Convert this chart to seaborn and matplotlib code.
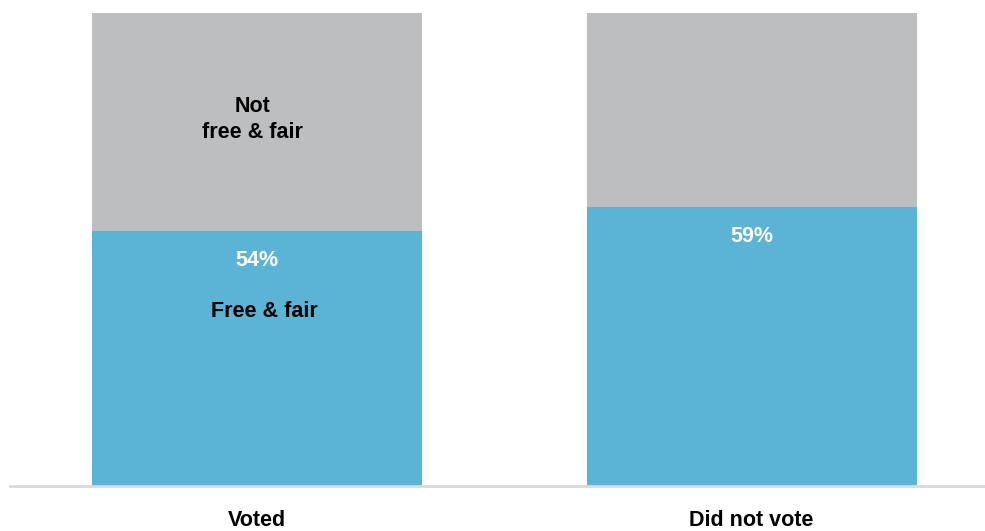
import matplotlib
matplotlib.use("Agg")
import matplotlib.pyplot as plt
import seaborn as sns
import pandas as pd

# Share of each group who say the election was free & fair
categories = ["Voted", "Did not vote"]
free_fair = [54, 59]
not_free_fair = [46, 41]

BLUE = "#5BB4D6"
GRAY = "#BDBEC0"

sns.set_theme(style="white")
plt.rcParams["font.family"] = ["Liberation Sans", "DejaVu Sans"]

df = pd.DataFrame({
    "group": categories,
    "free": free_fair,
    "total": [f + n for f, n in zip(free_fair, not_free_fair)],
})

fig = plt.figure(figsize=(9.85, 5.31), dpi=100)
ax = fig.add_axes([10 / 985, 45 / 531, 975 / 985, 473 / 531])

# Stacked bars: full height in gray, free & fair share in blue on top of it
sns.barplot(data=df, x="group", y="total", color=GRAY, width=0.667,
            saturation=1, linewidth=0, ax=ax, order=categories)
sns.barplot(data=df, x="group", y="free", color=BLUE, width=0.667,
            saturation=1, linewidth=0, ax=ax, order=categories)

ax.set_xlim(-0.4995, 1.472)
ax.set_ylim(0, 100)
for s in ["top", "right", "left"]:
    ax.spines[s].set_visible(False)
ax.spines["bottom"].set_color("#D9D9D9")
ax.spines["bottom"].set_linewidth(2)
ax.set_yticks([])
ax.set_xlabel("")
ax.set_ylabel("")
ax.tick_params(axis="x", length=0, pad=17)
ax.set_xticks(range(len(categories)))
ax.set_xticklabels(categories, fontsize=15.5, fontweight="bold", color="black")

# Value labels just inside the top of each blue segment
for i, v in enumerate(free_fair):
    ax.text(i, v - 6.3, f"{v}%", ha="center", va="center", color="white",
            fontsize=15.5, fontweight="bold")

# Segment labels on the first bar
ax.text(-0.01, 77.5, "Not\nfree & fair", ha="center", va="center",
        color="black", fontsize=15.5, fontweight="bold", linespacing=1.3)
ax.text(0.015, 36.8, "Free & fair", ha="center", va="center",
        color="black", fontsize=15.5, fontweight="bold")

fig.savefig("out.png", dpi=100)
